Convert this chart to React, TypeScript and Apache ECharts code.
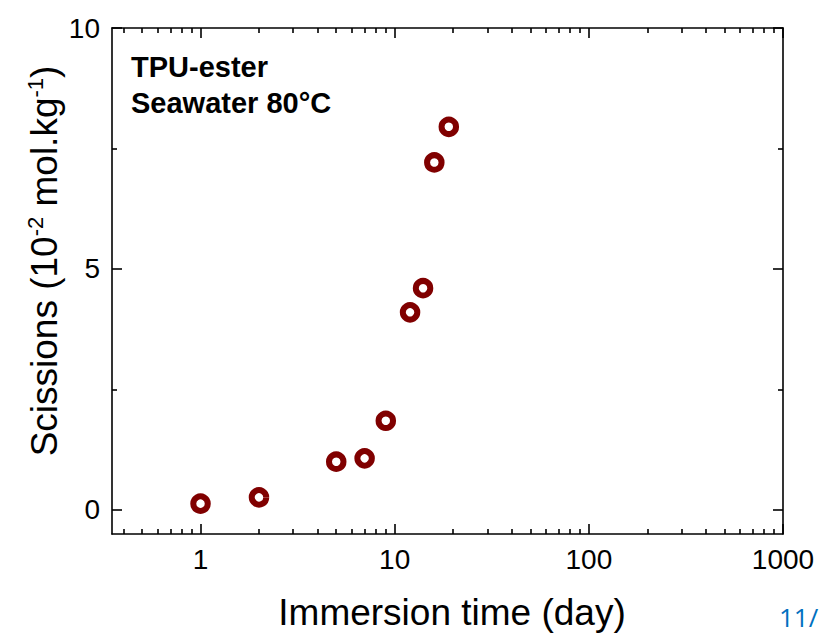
import React, { useEffect, useRef } from 'react';
import * as echarts from 'echarts';

const days = [1, 2, 5, 7, 9, 12, 14, 16, 19];
const scissions = [0.13, 0.26, 1.0, 1.07, 1.85, 4.1, 4.6, 7.21, 7.95];
const xMajorTicks = [1, 10, 100, 1000];
const xMinorTicks = [
  0.4, 0.5, 0.6, 0.7, 0.8, 0.9,
  2, 3, 4, 5, 6, 7, 8, 9,
  20, 30, 40, 50, 60, 70, 80, 90,
  200, 300, 400, 500, 600, 700, 800, 900,
];
const yMajorTicks = [0, 5, 10];
const yMinorTicks = [2.5, 7.5];

const X_MIN = 0.35;
const X_MAX = 1000;
const Y_MIN = -0.5;
const Y_MAX = 10;

const FONT = '"Liberation Sans", Arial, sans-serif';

export default function App() {
  const ref = useRef<HTMLDivElement>(null);

  useEffect(() => {
    if (!ref.current) return;
    const chart = echarts.init(ref.current, undefined, { renderer: 'svg' });

    const lineStyle = { color: '#000', width: 1.6 };
    const xBase = (position: string, ticks: number[], len: number, showLine: boolean, labels: boolean) => ({
      type: 'log',
      logBase: 10,
      position,
      min: X_MIN,
      max: X_MAX,
      axisLine: { show: showLine, onZero: false, lineStyle },
      axisTick: { show: true, inside: true, length: len, customValues: ticks, lineStyle: { color: '#000', width: 1.6 } },
      axisLabel: labels
        ? {
            show: true,
            customValues: ticks,
            fontSize: 28,
            fontFamily: FONT,
            color: '#000',
            margin: 11,
            formatter: (v: number) => String(Math.round(v)),
          }
        : { show: false },
      splitLine: { show: false },
      minorTick: { show: false },
    });
    const yBase = (position: string, ticks: number[], len: number, showLine: boolean, labels: boolean) => ({
      type: 'value',
      position,
      min: Y_MIN,
      max: Y_MAX,
      axisLine: { show: showLine, onZero: false, lineStyle },
      axisTick: { show: true, inside: true, length: len, customValues: ticks, lineStyle: { color: '#000', width: 1.6 } },
      axisLabel: labels
        ? {
            show: true,
            customValues: ticks,
            fontSize: 28,
            fontFamily: FONT,
            color: '#000',
            margin: 12,
          }
        : { show: false },
      splitLine: { show: false },
    });

    chart.setOption({
      animation: false,
      backgroundColor: '#fff',
      grid: { left: 112, right: 44, top: 28, bottom: 100, containLabel: false },
      xAxis: [
        xBase('bottom', xMajorTicks, 10, true, true),
        xBase('bottom', xMinorTicks, 5, false, false),
        xBase('top', xMajorTicks, 10, true, false),
        xBase('top', xMinorTicks, 5, false, false),
      ],
      yAxis: [
        yBase('left', yMajorTicks, 10, true, true),
        yBase('left', yMinorTicks, 5, false, false),
        yBase('right', yMajorTicks, 10, true, false),
        yBase('right', yMinorTicks, 5, false, false),
      ],
      series: [
        {
          type: 'scatter',
          xAxisIndex: 0,
          yAxisIndex: 0,
          data: days.map((d, i) => [d, scissions[i]]),
          symbol: 'circle',
          symbolSize: 14.5,
          itemStyle: { color: '#fff', borderColor: '#800000', borderWidth: 6, opacity: 1 },
          emphasis: { disabled: true },
          z: 5,
        },
      ],
      graphic: [
        {
          type: 'text',
          x: 452,
          y: 612,
          style: {
            text: 'Immersion time (day)',
            font: `37px ${FONT}`,
            fill: '#000',
            textAlign: 'center',
            textVerticalAlign: 'middle',
          },
        },
        {
          type: 'text',
          x: 44,
          y: 261,
          rotation: Math.PI / 2,
          style: {
            text: 'Scissions (10{sup|-2} mol.kg{sup|-1})',
            font: `37px ${FONT}`,
            fontSize: 37,
            fontFamily: FONT,
            fill: '#000',
            textAlign: 'center',
            textVerticalAlign: 'middle',
            rich: {
              sup: { fontSize: 22, fontFamily: FONT, fill: '#000', verticalAlign: 'top', lineHeight: 40 },
            },
          },
        },
        {
          type: 'text',
          x: 131,
          y: 67,
          style: {
            text: 'TPU-ester',
            font: `bold 29px ${FONT}`,
            fill: '#000',
            textAlign: 'left',
            textVerticalAlign: 'middle',
          },
        },
        {
          type: 'text',
          x: 131,
          y: 103,
          style: {
            text: 'Seawater 80°C',
            font: `bold 29px ${FONT}`,
            fill: '#000',
            textAlign: 'left',
            textVerticalAlign: 'middle',
          },
        },
        {
          type: 'text',
          x: 779,
          y: 617,
          style: {
            text: '11/',
            font: `26px "Open Sans", ${FONT}`,
            fill: '#0070C0',
            textAlign: 'left',
            textVerticalAlign: 'middle',
          },
        },
      ],
    });

    return () => chart.dispose();
  }, []);

  return (
    <div
      ref={ref}
      style={{ position: 'fixed', left: 0, top: 0, width: 827, height: 634, background: '#fff' }}
    />
  );
}
